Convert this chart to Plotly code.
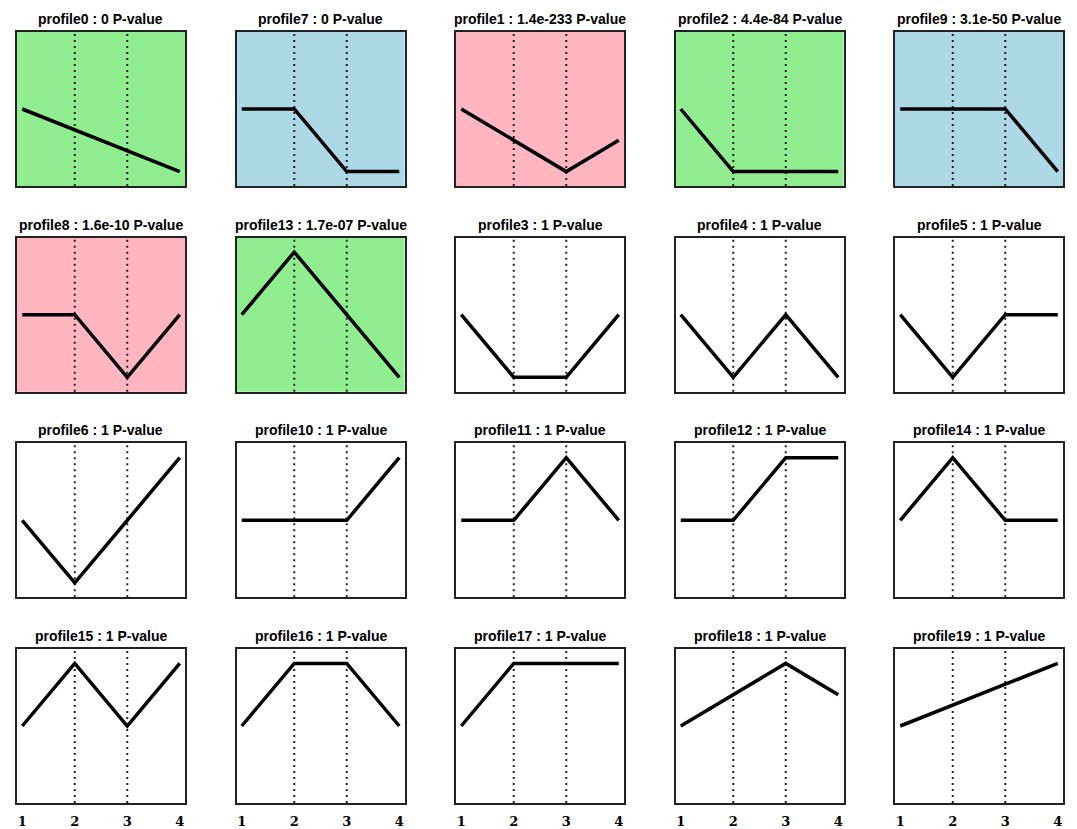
import plotly.graph_objects as go

# ---- data ----
time_points = [1, 2, 3, 4]
tick_labels = ["1", "2", "3", "4"]
profile_names = ["profile0", "profile7", "profile1", "profile2", "profile9",
                 "profile8", "profile13", "profile3", "profile4", "profile5",
                 "profile6", "profile10", "profile11", "profile12", "profile14",
                 "profile15", "profile16", "profile17", "profile18", "profile19"]
p_values = ["0", "0", "1.4e-233", "4.4e-84", "3.1e-50",
            "1.6e-10", "1.7e-07", "1", "1", "1",
            "1", "1", "1", "1", "1",
            "1", "1", "1", "1", "1"]
profile0 = [0, -1, -2, -3]
profile7 = [0, 0, -1, -1]
profile1 = [0, -1, -2, -1]
profile2 = [0, -1, -1, -1]
profile9 = [0, 0, 0, -1]
profile8 = [0, 0, -1, 0]
profile13 = [0, 1, 0, -1]
profile3 = [0, -1, -1, 0]
profile4 = [0, -1, 0, -1]
profile5 = [0, -1, 0, 0]
profile6 = [0, -1, 0, 1]
profile10 = [0, 0, 0, 1]
profile11 = [0, 0, 1, 0]
profile12 = [0, 0, 1, 1]
profile14 = [0, 1, 0, 0]
profile15 = [0, 1, 0, 1]
profile16 = [0, 1, 1, 0]
profile17 = [0, 1, 1, 1]
profile18 = [0, 1, 2, 1]
profile19 = [0, 1, 2, 3]
profile_values = [profile0, profile7, profile1, profile2, profile9,
                  profile8, profile13, profile3, profile4, profile5,
                  profile6, profile10, profile11, profile12, profile14,
                  profile15, profile16, profile17, profile18, profile19]
panel_colors = ["#90EE90", "#ADD8E6", "#FFB6C1", "#90EE90", "#ADD8E6",
                "#FFB6C1", "#90EE90"] + ["#FFFFFF"] * 13

# ---- layout geometry (page pixels; the page body adds an 8px offset) ----
OFF = 8
W, H = 1077 - OFF, 829 - OFF
col_left = [17, 236.5, 456, 675.5, 895]
row_top = [32, 237.7, 443.3, 649]
panel_w, panel_h = 168, 154
FONT = "Liberation Sans, Arial, sans-serif"

fig = go.Figure()
layout = {}
shapes = []
annotations = []

for i, (name, pv, vals, bg) in enumerate(zip(profile_names, p_values, profile_values, panel_colors)):
    r, c = divmod(i, 5)
    k = i + 1
    xs = "x" if k == 1 else f"x{k}"
    ys = "y" if k == 1 else f"y{k}"
    xa = "xaxis" if k == 1 else f"xaxis{k}"
    ya = "yaxis" if k == 1 else f"yaxis{k}"
    x0 = (col_left[c] - OFF) / W
    x1 = (col_left[c] + panel_w - OFF) / W
    y1 = 1 - (row_top[r] - OFF) / H
    y0 = 1 - (row_top[r] + panel_h - OFF) / H
    m = max(abs(v) for v in vals)

    fig.add_trace(go.Scatter(x=time_points, y=vals, mode="lines",
                             line=dict(color="black", width=3.5),
                             xaxis=xs, yaxis=ys, showlegend=False,
                             hoverinfo="skip"))
    bottom = (r == 3)
    layout[xa] = dict(domain=[x0, x1], range=[0.9, 4.1], anchor=ys,
                      showgrid=False, zeroline=False, showline=True, mirror=True,
                      linecolor="#222", linewidth=1.5, ticks="",
                      tickvals=time_points if bottom else [],
                      ticktext=tick_labels if bottom else [],
                      showticklabels=bottom, ticklabelstandoff=6,
                      tickfont=dict(family="DejaVu Serif, serif", size=13,
                                    color="black", weight="bold"),
                      fixedrange=True)
    layout[ya] = dict(domain=[y0, y1], range=[-1.23 * m, 1.23 * m], anchor=xs,
                      showgrid=False, zeroline=False, showline=True, mirror=True,
                      linecolor="#222", linewidth=1.5, ticks="",
                      showticklabels=False, fixedrange=True)
    shapes.append(dict(type="rect", xref=f"{xs} domain", yref=f"{ys} domain",
                       x0=0, x1=1, y0=0, y1=1, fillcolor=bg,
                       line=dict(width=0), layer="below"))
    for tv in time_points[1:3]:
        shapes.append(dict(type="line", xref=xs, yref=f"{ys} domain",
                           x0=tv, x1=tv, y0=0, y1=1,
                           line=dict(color="#222", width=2, dash="2px,4px"),
                           layer="below"))
    annotations.append(dict(text=f"{name} : {pv} P-value", xref="paper", yref="paper",
                            x=(x0 + x1) / 2, y=y1 + 13 / H, xanchor="center",
                            yanchor="middle", showarrow=False,
                            font=dict(family=FONT, size=14, color="black", weight="bold")))

fig.update_layout(width=W, height=H, margin=dict(l=0, r=0, t=0, b=0),
                  paper_bgcolor="white", plot_bgcolor="white",
                  shapes=shapes, annotations=annotations, **layout)
fig.write_html("out.html")
